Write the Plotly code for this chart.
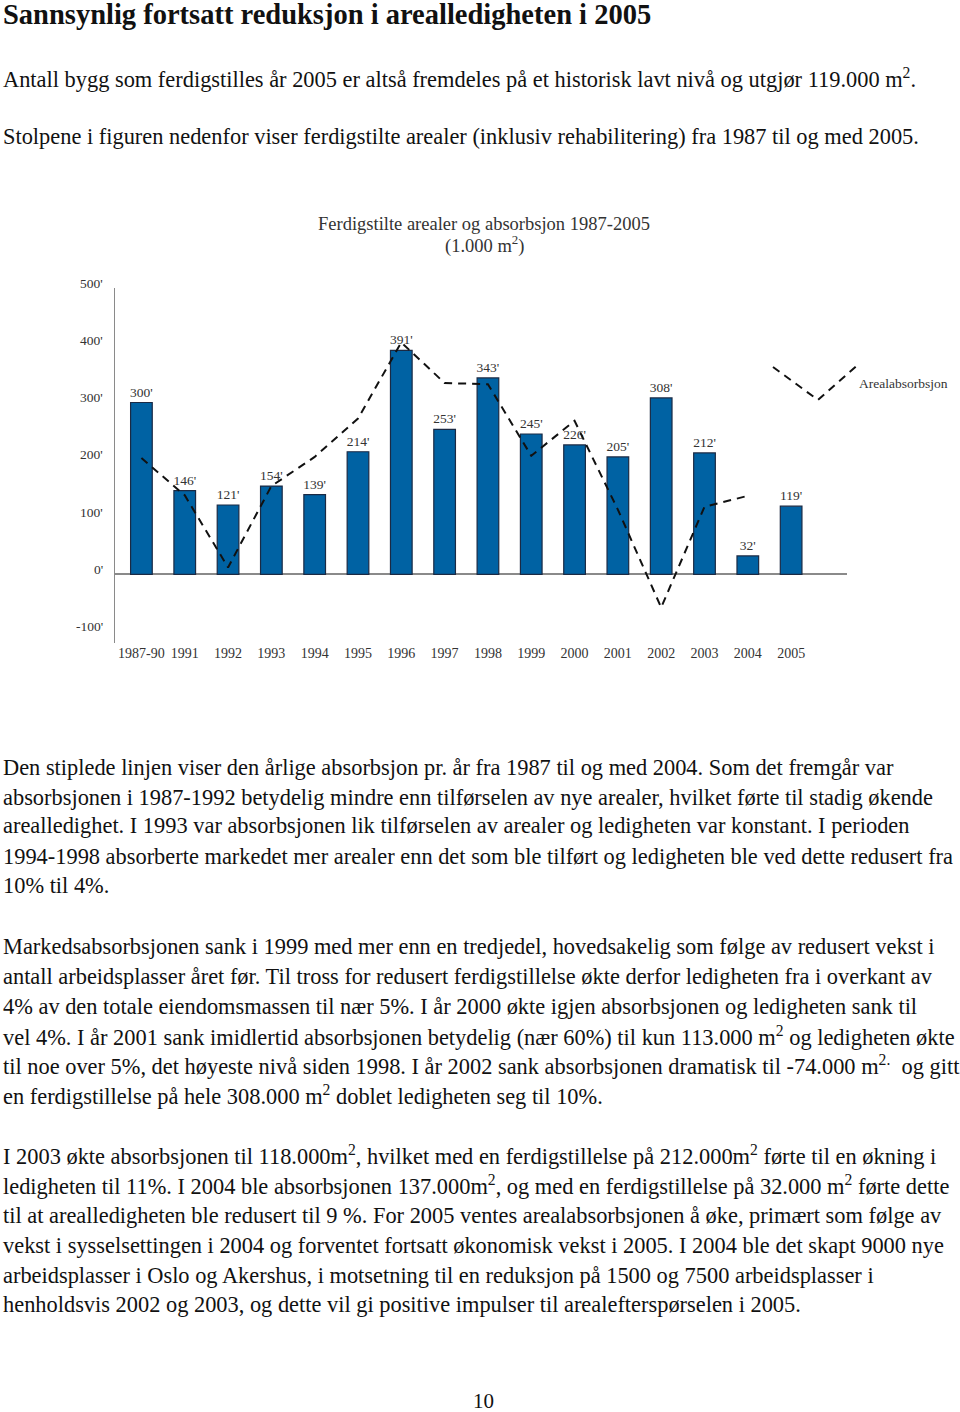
import plotly.graph_objects as go

# ---------------- data ----------------
categories = ["1987-90", "1991", "1992", "1993", "1994", "1995", "1996", "1997",
              "1998", "1999", "2000", "2001", "2002", "2003", "2004", "2005"]
completed = [300, 146, 121, 154, 139, 214, 391, 253, 343, 245, 226, 205, 308, 212, 32, 119]
absorption_years = categories[:15]
absorption = [203, 138, 12, 154, 205, 272, 405, 334, 332, 207, 268, 113, -58, 118, 137]
ytick_vals = [-100, 0, 100, 200, 300, 400, 500]
ytick_text = ["-100'", "0'", "100'", "200'", "300'", "400'", "500'"]

heading = "Sannsynlig fortsatt reduksjon i arealledigheten i 2005"
intro_lines = [
    "Antall bygg som ferdigstilles år 2005 er altså fremdeles på et historisk lavt nivå og utgjør 119.000 m<sup>2</sup>.",
    "Stolpene i figuren nedenfor viser ferdigstilte arealer (inklusiv rehabilitering) fra 1987 til og med 2005.",
]
body_lines = [
    "Den stiplede linjen viser den årlige absorbsjon pr. år fra 1987 til og med 2004. Som det fremgår var",
    "absorbsjonen i 1987-1992 betydelig mindre enn tilførselen av nye arealer, hvilket førte til stadig økende",
    "arealledighet. I 1993 var absorbsjonen lik tilførselen av arealer og ledigheten var konstant. I perioden",
    "1994-1998 absorberte markedet mer arealer enn det som ble tilført og ledigheten ble ved dette redusert fra",
    "10% til 4%.",
    "Markedsabsorbsjonen sank i 1999 med mer enn en tredjedel, hovedsakelig som følge av redusert vekst i",
    "antall arbeidsplasser året før. Til tross for redusert ferdigstillelse økte derfor ledigheten fra i overkant av",
    "4% av den totale eiendomsmassen til nær 5%. I år 2000 økte igjen absorbsjonen og ledigheten sank til",
    "vel 4%. I år 2001 sank imidlertid absorbsjonen betydelig (nær 60%) til kun 113.000 m<sup>2</sup> og ledigheten økte",
    "til noe over 5%, det høyeste nivå siden 1998. I år 2002 sank absorbsjonen dramatisk til -74.000 m<sup>2.</sup>  og gitt",
    "en ferdigstillelse på hele 308.000 m<sup>2</sup> doblet ledigheten seg til 10%.",
    "I 2003 økte absorbsjonen til 118.000m<sup>2</sup>, hvilket med en ferdigstillelse på 212.000m<sup>2</sup> førte til en økning i",
    "ledigheten til 11%. I 2004 ble absorbsjonen 137.000m<sup>2</sup>, og med en ferdigstillelse på 32.000 m<sup>2</sup> førte dette",
    "til at arealledigheten ble redusert til 9 %. For 2005 ventes arealabsorbsjonen å øke, primært som følge av",
    "vekst i sysselsettingen i 2004 og forventet fortsatt økonomisk vekst i 2005. I 2004 ble det skapt 9000 nye",
    "arbeidsplasser i Oslo og Akershus, i motsetning til en reduksjon på 1500 og 7500 arbeidsplasser i",
    "henholdsvis 2002 og 2003, og dette vil gi positive impulser til arealefterspørselen i 2005.",
]
body_y = [767, 797, 826, 856, 885, 946, 976, 1006, 1036, 1065, 1095,
          1155, 1185, 1215, 1245, 1275, 1304]
intro_y = [78, 137]

chart_title = "Ferdigstilte arealer og absorbsjon 1987-2005"
chart_unit = "(1.000 m<sup>2</sup>)"
legend_label = "Arealabsorbsjon"
page_number = "10"

# ---------------- layout helpers ----------------
W, H = 960, 1412
SERIF = "Liberation Serif, Times New Roman, serif"
TXT = "#111111"
GREY = "#333333"
BODY_SIZE = 22.4


def px(x):
    return x / W


def py(y):
    return 1 - y / H


fig = go.Figure()

fig.add_trace(go.Bar(
    x=categories, y=completed,
    width=0.5,
    marker=dict(color="#0062A3", line=dict(color="#1B2A44", width=1.2)),
    text=[f"{v}'" for v in completed],
    textposition="outside",
    constraintext="none",
    cliponaxis=False,
    textfont=dict(family=SERIF, size=13.5, color=GREY),
    showlegend=False,
))

fig.add_trace(go.Scatter(
    x=absorption_years, y=absorption,
    mode="lines",
    line=dict(color="#111111", width=2, dash="8px,6px"),
    showlegend=False,
    cliponaxis=False,
))

annotations = []
annotations.append(dict(text=f"<b>{heading}</b>", x=px(1), y=py(14), xref="paper", yref="paper",
                        xanchor="left", yanchor="middle", showarrow=False,
                        font=dict(family=SERIF, size=28.5, color=TXT)))
for t, yy in zip(intro_lines, intro_y):
    annotations.append(dict(text=t, x=px(1), y=py(yy), xref="paper", yref="paper",
                            xanchor="left", yanchor="middle", showarrow=False,
                            font=dict(family=SERIF, size=BODY_SIZE, color=TXT)))
for t, yy in zip(body_lines, body_y):
    annotations.append(dict(text=t, x=px(1), y=py(yy), xref="paper", yref="paper",
                            xanchor="left", yanchor="middle", showarrow=False,
                            font=dict(family=SERIF, size=BODY_SIZE, color=TXT)))
annotations.append(dict(text=page_number, x=px(483), y=py(1401), xref="paper", yref="paper",
                        xanchor="center", yanchor="middle", showarrow=False,
                        font=dict(family=SERIF, size=21, color=TXT)))
annotations.append(dict(text=chart_title, x=px(484), y=py(224), xref="paper", yref="paper",
                        xanchor="center", yanchor="middle", showarrow=False,
                        font=dict(family=SERIF, size=18.5, color=GREY)))
annotations.append(dict(text=chart_unit, x=px(484), y=py(245), xref="paper", yref="paper",
                        xanchor="center", yanchor="middle", showarrow=False,
                        font=dict(family=SERIF, size=18.5, color=GREY)))
for v, t in zip(ytick_vals, ytick_text):
    annotations.append(dict(text=t, x=px(105), y=v, xref="paper", yref="y",
                            xanchor="right", yanchor="middle", yshift=5, showarrow=False,
                            font=dict(family=SERIF, size=13.5, color=GREY)))
annotations.append(dict(text=legend_label, x=px(857), y=py(383), xref="paper", yref="paper",
                        xanchor="left", yanchor="middle", showarrow=False,
                        font=dict(family=SERIF, size=13.5, color=GREY)))

legend_path = f"M {px(773)} {py(367)} L {px(818)} {py(400)} L {px(860)} {py(363)}"

fig.update_layout(
    width=W, height=H,
    margin=dict(l=0, r=0, t=0, b=0),
    paper_bgcolor="white", plot_bgcolor="white",
    annotations=annotations,
    shapes=[dict(type="path", path=legend_path, xref="paper", yref="paper",
                 line=dict(color="#111111", width=2, dash="8px,6px"))],
    xaxis=dict(
        domain=[px(115), px(847)],
        type="category",
        categoryorder="array", categoryarray=categories,
        range=[-0.61, 16.29],
        showgrid=False, showline=False, zeroline=False,
        ticks="", tickfont=dict(family=SERIF, size=14, color=GREY),
    ),
    yaxis=dict(
        domain=[py(643), py(288)],
        range=[-120, 500],
        showgrid=False, showticklabels=False, ticks="",
        showline=True, linecolor="#8a8a8a", linewidth=1,
        zeroline=True, zerolinecolor="#8a8a8a", zerolinewidth=1.5,
    ),
)

fig.write_html("out.html",
               config={"displayModeBar": False},
               post_script="document.body.style.margin='0';document.body.style.overflow='hidden';")
